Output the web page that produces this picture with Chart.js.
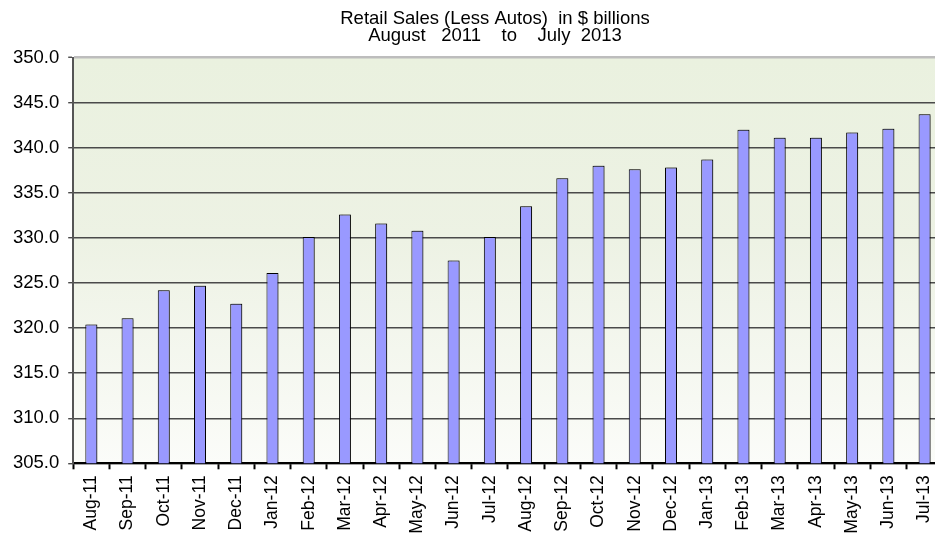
<!DOCTYPE html>
<html>
<head>
<meta charset="utf-8">
<script src="https://cdn.jsdelivr.net/npm/chart.js@4/dist/chart.umd.min.js"></script>
<style>
  html, body { margin: 0; padding: 0; background: #ffffff; overflow: hidden; }
  #wrap { width: 990px; height: 536px; }
</style>
</head>
<body>
<div id="wrap"><canvas id="c" width="990" height="536"></canvas></div>
<script>
const categories = ["Aug-11","Sep-11","Oct-11","Nov-11","Dec-11","Jan-12","Feb-12","Mar-12","Apr-12","May-12","Jun-12","Jul-12",
                    "Aug-12","Sep-12","Oct-12","Nov-12","Dec-12","Jan-13","Feb-13","Mar-13","Apr-13","May-13","Jun-13","Jul-13"];
const salesValues = [320.4, 321.1, 324.2, 324.7, 322.7, 326.1, 330.1, 332.6, 331.6, 330.8, 327.5, 330.1,
                     333.5, 336.6, 338.0, 337.6, 337.8, 338.7, 342.0, 341.1, 341.1, 341.7, 342.1, 343.7];
const titleLines = ["Retail Sales (Less Autos)  in $ billions", "August   2011    to    July  2013"];
const yMin = 305, yMax = 350, yStep = 5;

const bgPlugin = {
  id: 'plotBg',
  beforeDraw(chart) {
    const a = chart.chartArea, ctx = chart.ctx;
    const g = ctx.createLinearGradient(0, a.top, 0, a.bottom);
    g.addColorStop(0, '#EAF1DF');
    g.addColorStop(0.45, '#EDF2E4');
    g.addColorStop(1, '#FBFCF9');
    ctx.save();
    ctx.fillStyle = g;
    ctx.fillRect(a.left, a.top, a.right - a.left, a.bottom - a.top);
    ctx.restore();
  }
};
const shadowPlugin = {
  id: 'barShadow',
  beforeDatasetsDraw(chart) {
    const ctx = chart.ctx;
    ctx.save();
    ctx.shadowColor = 'rgba(0,0,0,0.28)';
    ctx.shadowOffsetX = 1.5;
    ctx.shadowOffsetY = -1;
    ctx.shadowBlur = 1;
  },
  afterDatasetsDraw(chart) { chart.ctx.restore(); }
};

const FONT = 'Liberation Sans, Arial, sans-serif';

new Chart(document.getElementById('c'), {
  type: 'bar',
  data: {
    labels: categories,
    datasets: [{
      data: salesValues,
      backgroundColor: '#9999FF',
      borderColor: '#000000',
      borderWidth: 1,
      barPercentage: 0.331,
      categoryPercentage: 1.0
    }]
  },
  plugins: [bgPlugin, shadowPlugin],
  options: {
    responsive: false,
    animation: false,
    devicePixelRatio: 1,
    layout: { padding: 0 },
    plugins: {
      legend: { display: false },
      tooltip: { enabled: false },
      title: {
        display: true,
        text: titleLines,
        color: '#000000',
        font: { family: FONT, size: 18.5, weight: 'normal', lineHeight: 0.92 },
        padding: { top: 10, bottom: 13.5 }
      }
    },
    scales: {
      x: {
        grid: {
          offset: true,
          drawOnChartArea: false,
          drawTicks: true,
          tickLength: 6,
          tickWidth: 2,
          tickColor: '#000000'
        },
        border: { display: true, color: '#000000', width: 2 },
        ticks: {
          color: '#000000',
          font: { family: FONT, size: 17.5 },
          minRotation: 90,
          maxRotation: 90,
          autoSkip: false,
          padding: 6
        },
        afterFit(scale) { scale.height = 72.7; }
      },
      y: {
        min: yMin,
        max: yMax,
        grid: {
          color: (ctx) => ctx.tick && ctx.tick.value === yMax ? '#BDBDBD' : '#4A4A4A',
          lineWidth: (ctx) => ctx.tick && ctx.tick.value === yMax ? 2.5 : 1.4,
          tickLength: 5,
          tickColor: '#4A4A4A',
          tickWidth: 1.4
        },
        border: { display: true, color: '#555555', width: 2 },
        ticks: {
          stepSize: yStep,
          color: '#000000',
          font: { family: FONT, size: 18.5 },
          padding: 9,
          callback: (v) => Number(v).toFixed(1)
        },
        afterFit(scale) { scale.width = 73.2; }
      },
      yRightSpacer: {
        position: 'right',
        display: true,
        min: yMin,
        max: yMax,
        grid: { display: false, drawTicks: false },
        border: { display: false },
        ticks: { display: false },
        afterFit(scale) { scale.width = 47.3; }
      }
    }
  }
});
</script>
</body>
</html>
